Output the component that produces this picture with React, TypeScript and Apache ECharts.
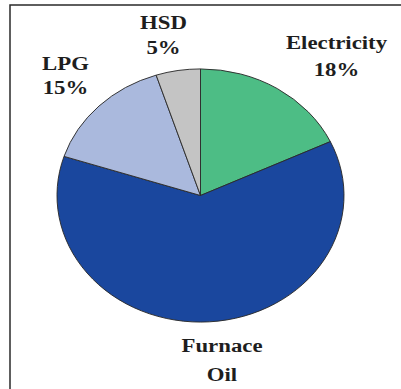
import React, { useEffect, useRef } from "react";
import * as echarts from "echarts";

const categories = ["Electricity", "Furnace Oil", "LPG", "HSD"];
const values = [18, 62, 15, 5];
const colors = ["#4DBD85", "#1A479E", "#AAB9DD", "#C4C4C4"];

export default function App() {
  const ref = useRef<HTMLDivElement>(null);
  useEffect(() => {
    document.body.style.margin = "0";
    const chart = echarts.init(ref.current!, null, { renderer: "svg" });
    const total = values.reduce((a, b) => a + b, 0);
    const cx = 200.5;
    const cy = 195.5;
    const rx = 143.5;
    const ry = 126.5;
    const labelText = categories.map((c, i) =>
      i === 1 ? c.replace(" ", "\n") : `${c}\n${values[i]}%`
    );
    const labelPos = [
      { x: 336.5, y: 56, lh: 27 },
      { x: 222, y: 360, lh: 29 },
      { x: 65.5, y: 75.5, lh: 24 },
      { x: 163.5, y: 35, lh: 25 },
    ];
    chart.setOption({
      animation: false,
      graphic: [
        {
          type: "rect",
          shape: { x: 10, y: 5, width: 420, height: 420 },
          style: { fill: "none", stroke: "#2a2a2a", lineWidth: 1.5 },
          z: 10,
        },
        ...labelText.map((t, i) => ({
          type: "text",
          x: labelPos[i].x,
          y: labelPos[i].y,
          scaleX: 1.2,
          style: {
            text: t,
            fontFamily: "Liberation Serif",
            fontWeight: "bold",
            fontSize: 19,
            fill: "#1e1e1e",
            align: "center",
            verticalAlign: "middle",
            lineHeight: labelPos[i].lh,
          },
          z: 10,
        })),
      ],
      series: [
        {
          type: "custom",
          coordinateSystem: "none",
          data: values.map((v, i) => ({ value: v, name: categories[i] })),
          renderItem: (params: any) => {
            const i = params.dataIndex;
            let before = 0;
            for (let k = 0; k < i; k++) before += values[k];
            const start = -Math.PI / 2 + (before / total) * Math.PI * 2;
            const end = start + (values[i] / total) * Math.PI * 2;
            return {
              type: "sector",
              x: cx,
              y: cy,
              scaleY: ry / rx,
              shape: { cx: 0, cy: 0, r0: 0, r: rx, startAngle: start, endAngle: end, clockwise: true },
              style: { fill: colors[i], stroke: "#2b2b2b", lineWidth: 1, strokeNoScale: true },
            };
          },
        },
      ],
    });
    return () => chart.dispose();
  }, []);
  return <div ref={ref} style={{ width: 401, height: 389 }} />;
}
